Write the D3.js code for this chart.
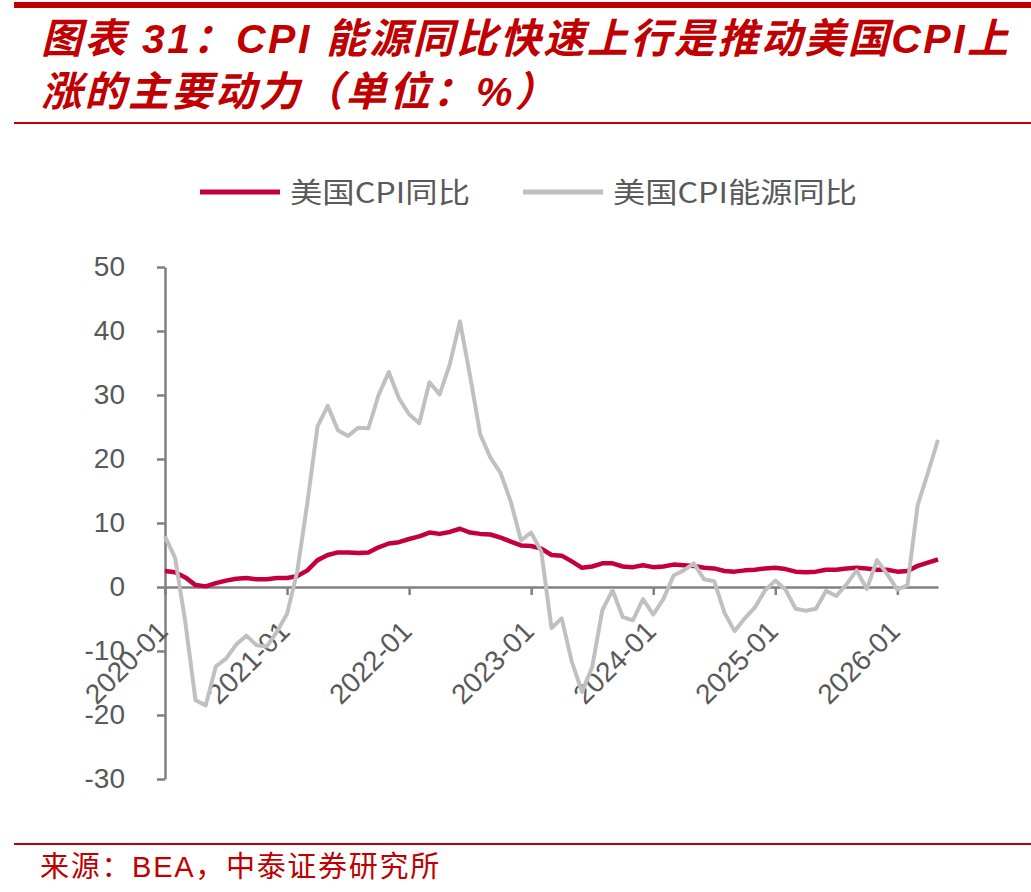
<!DOCTYPE html>
<html>
<head>
<meta charset="utf-8">
<script src="https://cdn.jsdelivr.net/npm/d3@7"></script>
<style>
  body { margin: 0; background: #fff; }
  svg { display: block; }
</style>
</head>
<body>
<svg width="1031" height="892"></svg>
<script>
// months 2020-01 .. 2026-05 (category axis)
const months = d3.timeMonths(new Date(2020, 0, 1), new Date(2026, 5, 1)).map(d3.timeFormat("%Y-%m"));

// 美国CPI同比 (%)
const cpiYoy = [
    2.5, 2.3, 1.5, 0.3, 0.1, 0.6, 1.0, 1.3, 1.4, 1.2, 1.2, 1.4,
    1.4, 1.7, 2.6, 4.2, 5.0, 5.4, 5.4, 5.3, 5.4, 6.2, 6.8, 7.0,
    7.5, 7.9, 8.5, 8.3, 8.6, 9.1, 8.5, 8.3, 8.2, 7.7, 7.1, 6.5,
    6.4, 6.0, 5.0, 4.9, 4.0, 3.0, 3.2, 3.7, 3.7, 3.2, 3.1, 3.4,
    3.1, 3.2, 3.5, 3.4, 3.3, 3.0, 2.9, 2.5, 2.4, 2.6, 2.7, 2.9,
    3.0, 2.8, 2.4, 2.3, 2.4, 2.7, 2.7, 2.9, 3.0, 2.9, 2.7, 2.7,
    2.4, 2.5, 3.3, 3.8, 4.3
];

// 美国CPI能源同比 (%)
const energyYoy = [
    7.9, 4.5, -5.5, -17.7, -18.5, -12.4, -11.2, -9.0, -7.6, -9.1, -9.3, -7.0,
    -4.2, 2.4, 13.2, 25.1, 28.3, 24.5, 23.6, 24.9, 24.8, 30.0, 33.6, 29.5,
    27.0, 25.6, 32.0, 30.1, 34.8, 41.5, 32.9, 23.8, 20.2, 17.8, 13.3, 7.3,
    8.5, 5.5, -6.4, -4.9, -11.7, -16.4, -12.5, -3.6, -0.5, -4.7, -5.2, -1.9,
    -4.3, -1.9, 1.8, 2.6, 3.7, 1.2, 0.9, -4.0, -6.9, -4.9, -3.2, -0.5,
    1.0, -0.4, -3.4, -3.7, -3.4, -0.6, -1.4, 0.4, 2.6, -0.3, 4.2, 2.0,
    -0.4, 0.3, 12.8, 17.8, 23.0
];

const xTickLabels = ["2020-01", "2021-01", "2022-01", "2023-01", "2024-01", "2025-01", "2026-01"];
const yTicks = [50, 40, 30, 20, 10, 0, -10, -20, -30];

const seriesNames = ["美国CPI同比", "美国CPI能源同比"];
const seriesColors = ["#C4003A", "#C0C0C0"];

const titleLines = ["图表 31：CPI 能源同比快速上行是推动美国CPI上", "涨的主要动力（单位：%）"];
const sourceText = "来源：BEA，中泰证券研究所";

const svg = d3.select("svg");
const red = "#C00000";
const axisGrey = "#808080";
const labelGrey = "#595959";

svg.append("rect").attr("width", 1031).attr("height", 892).attr("fill", "#fff");

// header / footer rules
svg.append("rect").attr("x", 14).attr("y", 2).attr("width", 1017).attr("height", 6).attr("fill", red);
svg.append("rect").attr("x", 14).attr("y", 122).attr("width", 1017).attr("height", 2).attr("fill", red);
svg.append("rect").attr("x", 14).attr("y", 843).attr("width", 1017).attr("height", 2).attr("fill", red);

// title
titleLines.forEach((t, i) => {
    svg.append("text")
        .attr("x", 41)
        .attr("y", 53 + i * 53)
        .attr("font-family", "'Liberation Sans', 'Noto Sans CJK SC', sans-serif")
        .attr("font-size", "41px")
        .attr("font-weight", "bold")
        .attr("font-style", "italic")
        .attr("letter-spacing", "2.5px")
        .attr("fill", red)
        .text(t);
});

// source
svg.append("text")
    .attr("x", 40)
    .attr("y", 877)
    .attr("font-family", "'Liberation Sans', 'Noto Sans CJK SC', sans-serif")
    .attr("font-size", "29px")
    .attr("letter-spacing", "1.7px")
    .attr("fill", red)
    .text(sourceText);

// scales
const x = d3.scalePoint().domain(months).range([165, 938]);
const y = d3.scaleLinear().domain([-30, 50]).range([779, 267]);

// y axis
const yAxis = svg.append("g")
    .attr("transform", `translate(${x(months[0])},0)`)
    .call(d3.axisLeft(y).tickValues(yTicks).tickFormat(d => String(d))
        .tickSize(8).tickSizeOuter(0).tickPadding(32));

// x axis at zero
const xAxis = svg.append("g")
    .attr("transform", `translate(0,${y(0)})`)
    .call(d3.axisBottom(x).tickValues(xTickLabels).tickSize(8).tickSizeOuter(0));

[yAxis, xAxis].forEach(g => {
    g.select(".domain").attr("stroke", axisGrey).attr("stroke-width", 2.5);
    g.selectAll(".tick line").attr("stroke", axisGrey).attr("stroke-width", 2.5);
    g.selectAll(".tick text")
        .attr("fill", labelGrey)
        .attr("font-family", "'Liberation Sans', Arial, sans-serif")
        .attr("font-size", "28px");
});

xAxis.selectAll(".tick text")
    .attr("x", 0)
    .attr("y", 0)
    .attr("dy", 0)
    .attr("text-anchor", "end")
    .attr("transform", "translate(4,46) rotate(-45)");

// lines
const line = d3.line()
    .x((d, i) => x(months[i]))
    .y(d => y(d));

[cpiYoy, energyYoy].forEach((series, k) => {
    svg.append("path")
        .datum(series)
        .attr("d", line)
        .attr("fill", "none")
        .attr("stroke", seriesColors[k])
        .attr("stroke-width", k === 0 ? 4.5 : 4)
        .attr("stroke-linejoin", "round");
});

// legend
const legendX = [200, 523];
const legendTextWidth = [180, 244];
seriesNames.forEach((name, k) => {
    const g = svg.append("g").attr("transform", `translate(${legendX[k]},192)`);
    g.append("line")
        .attr("x1", 0).attr("x2", 80)
        .attr("stroke", seriesColors[k])
        .attr("stroke-width", 5);
    g.append("text")
        .attr("x", 90)
        .attr("y", 11)
        .attr("textLength", legendTextWidth[k])
        .attr("lengthAdjust", "spacingAndGlyphs")
        .attr("font-family", "'Noto Sans CJK SC', sans-serif")
        .attr("font-size", "28px")
        .attr("fill", labelGrey)
        .text(name);
});
</script>
</body>
</html>
